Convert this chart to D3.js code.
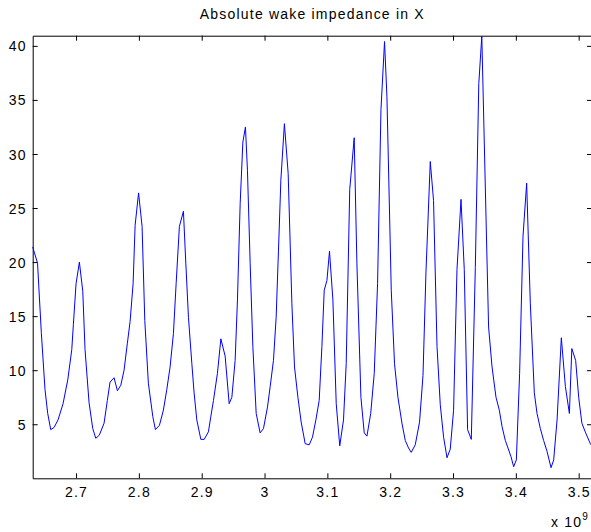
<!DOCTYPE html>
<html>
<head>
<meta charset="utf-8">
<script src="https://cdn.jsdelivr.net/npm/d3@7"></script>
<style>
  html, body { margin: 0; padding: 0; background: #fff; overflow: hidden; }
  svg text { font-family: "Liberation Sans", Arial, sans-serif; font-size: 14px; letter-spacing: 1.2px; fill: #000; }
</style>
</head>
<body>
<div id="chart"></div>
<script>
// frequency (units of 1e9)
const freqGHz = [
  2.6310, 2.6387, 2.6447, 2.6506, 2.6549, 2.6597, 2.6650, 2.6713, 2.6793, 2.6868,
  2.6932, 2.6957, 2.7000, 2.7053, 2.7107, 2.7143, 2.7207, 2.7266, 2.7314, 2.7371,
  2.7446, 2.7498, 2.7541, 2.7605, 2.7658, 2.7712, 2.7764, 2.7817, 2.7860, 2.7908,
  2.7940, 2.7995, 2.8051, 2.8094, 2.8151, 2.8222, 2.8263, 2.8327, 2.8390, 2.8444,
  2.8497, 2.8550, 2.8593, 2.8645, 2.8709, 2.8747, 2.8789, 2.8843, 2.8879, 2.8922,
  2.8986, 2.9039, 2.9107, 2.9142, 2.9187, 2.9250, 2.9305, 2.9373, 2.9437, 2.9480,
  2.9532, 2.9569, 2.9612, 2.9655, 2.9696, 2.9728, 2.9771, 2.9814, 2.9867, 2.9930,
  2.9983, 3.0047, 3.0090, 3.0142, 3.0185, 3.0222, 3.0260, 3.0316, 3.0376, 3.0435,
  3.0477, 3.0531, 3.0583, 3.0647, 3.0711, 3.0763, 3.0817, 3.0870, 3.0913, 3.0950,
  3.0993, 3.1034, 3.1088, 3.1141, 3.1197, 3.1257, 3.1300, 3.1356, 3.1427, 3.1470,
  3.1534, 3.1587, 3.1630, 3.1690, 3.1746, 3.1799, 3.1853, 3.1910, 3.1948, 3.2017,
  3.2069, 3.2123, 3.2187, 3.2240, 3.2292, 3.2335, 3.2399, 3.2467, 3.2522, 3.2569,
  3.2638, 3.2690, 3.2745, 3.2797, 3.2850, 3.2904, 3.2956, 3.3009, 3.3063, 3.3127,
  3.3179, 3.3232, 3.3291, 3.3355, 3.3410, 3.3458, 3.3566, 3.3621, 3.3684, 3.3737,
  3.3780, 3.3832, 3.3875, 3.3923, 3.3965, 3.4008, 3.4060, 3.4114, 3.4172, 3.4230,
  3.4294, 3.4337, 3.4390, 3.4442, 3.4496, 3.4560, 3.4602, 3.4656, 3.4724, 3.4788,
  3.4852, 3.4891, 3.4952, 3.5000, 3.5051, 3.5111, 3.5186, 3.5210
];

// |Z| values
const absZ = [
  21.4, 19.9, 13.5, 8.2, 6.0, 4.5, 4.7, 5.4, 6.9, 9.1,
  11.9, 14.2, 18.0, 20.0, 17.3, 11.9, 7.0, 4.6, 3.7, 4.0,
  5.1, 7.2, 8.9, 9.3, 8.1, 8.6, 10.0, 12.5, 14.5, 18.0,
  23.4, 26.4, 23.3, 14.6, 8.8, 5.7, 4.5, 4.9, 6.3, 8.2,
  10.3, 13.4, 18.0, 23.3, 24.7, 19.9, 14.9, 10.6, 7.9, 5.4,
  3.6, 3.6, 4.3, 5.6, 7.2, 9.7, 12.9, 11.3, 6.9, 7.5,
  10.9, 16.5, 25.4, 31.1, 32.5, 28.5, 19.9, 12.2, 6.0, 4.2,
  4.6, 6.6, 8.5, 10.9, 14.9, 21.1, 27.6, 32.8, 28.2, 16.2,
  10.3, 7.5, 5.2, 3.2, 3.1, 3.8, 5.4, 7.2, 12.2, 17.4,
  18.3, 21.0, 16.5, 6.9, 3.0, 5.4, 10.6, 26.7, 31.5, 19.9,
  7.5, 4.2, 3.9, 6.0, 9.7, 18.0, 34.1, 40.4, 35.3, 17.4,
  10.6, 7.5, 5.1, 3.5, 2.8, 2.4, 3.1, 5.2, 9.5, 19.0,
  29.3, 25.7, 12.2, 6.8, 3.8, 1.9, 2.7, 6.3, 19.3, 25.8,
  19.3, 4.5, 3.6, 19.5, 36.5, 40.9, 14.0, 10.3, 7.5, 6.3,
  4.8, 3.5, 2.8, 2.0, 1.07, 1.7, 9.7, 22.4, 27.3, 16.2,
  7.9, 6.0, 4.6, 3.5, 2.5, 0.98, 1.7, 5.4, 13.0, 8.5,
  6.0, 12.0, 10.9, 7.5, 5.1, 4.2, 3.2, 3.0
];

const xTicks = [2.7, 2.8, 2.9, 3.0, 3.1, 3.2, 3.3, 3.4, 3.5];
const yTicks = [5, 10, 15, 20, 25, 30, 35, 40];
const xDomain = [2.631, 3.5212];
const yDomain = [0, 40.94];
const title = "Absolute wake impedance in X";

const W = 591, H = 532;
const plot = { left: 32.7, right: 592, top: 35.7, bottom: 478.3 };

const svg = d3.select("#chart").append("svg")
  .attr("width", W).attr("height", H);

const x = d3.scaleLinear().domain(xDomain).range([plot.left, plot.right]);
const y = d3.scaleLinear().domain(yDomain).range([plot.bottom, plot.top]);

const fmt = d3.format("~f");

// axes (ticks inside, box all round)
const gx = svg.append("g").attr("transform", `translate(0,${plot.bottom})`)
  .call(d3.axisBottom(x).tickValues(xTicks).tickSize(-5).tickSizeOuter(0).tickFormat(fmt));
const gxTop = svg.append("g").attr("transform", `translate(0,${plot.top})`)
  .call(d3.axisTop(x).tickValues(xTicks).tickSize(-5).tickSizeOuter(0).tickFormat(""));
const gy = svg.append("g").attr("transform", `translate(${plot.left},0)`)
  .call(d3.axisLeft(y).tickValues(yTicks).tickSize(-5).tickSizeOuter(0).tickPadding(6).tickFormat(fmt));
const gyRight = svg.append("g").attr("transform", `translate(${plot.right},0)`)
  .call(d3.axisRight(y).tickValues(yTicks).tickSize(-5).tickSizeOuter(0).tickFormat(""));

svg.selectAll(".domain").attr("stroke", "#000").attr("stroke-width", 1);
svg.selectAll(".tick line").attr("stroke", "#000");
svg.selectAll(".tick text").attr("font-family", null).attr("font-size", null).attr("fill", "#000");
gx.selectAll(".tick text").attr("dy", "0.71em").attr("y", 9);
gy.selectAll(".tick text").attr("dy", "0.36em");

// data line
const line = d3.line()
  .x((d, i) => x(freqGHz[i]))
  .y(d => y(d));

svg.append("path")
  .datum(absZ)
  .attr("fill", "none")
  .attr("stroke", "#0000ff")
  .attr("stroke-width", 1)
  .attr("d", line);

// title
svg.append("text")
  .attr("x", (plot.left + plot.right) / 2)
  .attr("y", 19)
  .attr("text-anchor", "middle")
  .text(title);

// exponent label
const expo = svg.append("text")
  .attr("x", 551)
  .attr("y", 527);
expo.append("tspan").text("x 10");
expo.append("tspan").attr("dy", -7).attr("font-size", "10px").text("9");
</script>
</body>
</html>
